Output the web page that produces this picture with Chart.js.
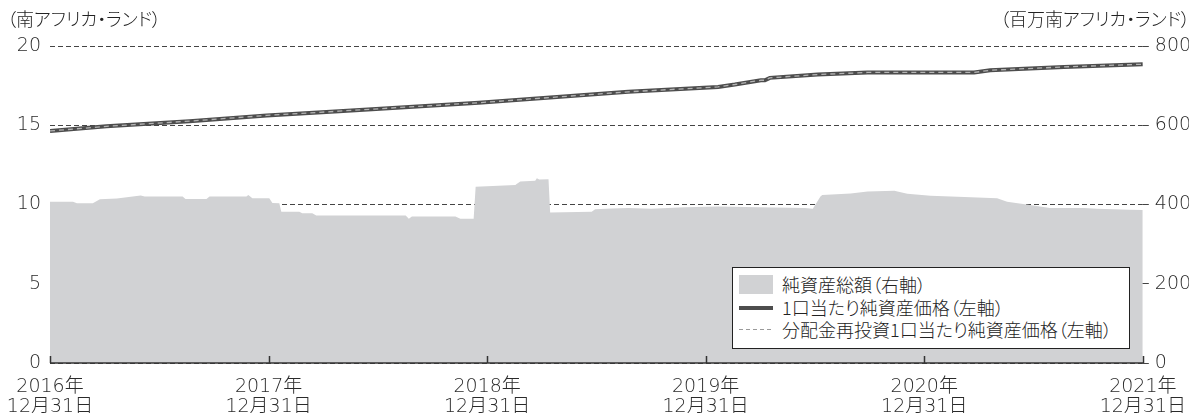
<!DOCTYPE html>
<html><head><meta charset="utf-8">
<script src="https://cdn.jsdelivr.net/npm/chart.js@4.4.1/dist/chart.umd.min.js"></script>
<style>
html,body{margin:0;padding:0;background:#fff;}
#wrap{position:relative;width:1192px;height:413px;overflow:hidden;}
#c{position:absolute;left:0;top:0;}
.t{position:absolute;font-family:"Noto Sans CJK JP",sans-serif;font-weight:300;font-size:18px;line-height:20px;color:#222;font-feature-settings:"palt";white-space:nowrap;}
#legend{position:absolute;left:732px;top:267px;width:396px;height:80px;border:1px solid #222;background:#fff;}
.row{position:absolute;left:0;height:22px;width:100%;}
.sw{position:absolute;left:6px;width:34px;}
.lt{position:absolute;left:49px;top:0;font-family:"Noto Sans CJK JP",sans-serif;font-weight:300;font-size:18px;line-height:22px;color:#222;font-feature-settings:"palt";white-space:nowrap;}
</style></head>
<body>
<div id="wrap">
<canvas id="c" width="1192" height="413"></canvas>
<div class="t" style="left:7px;top:8px;">（南アフリカ・ランド）</div>
<div class="t" style="right:2px;top:8px;">（百万南アフリカ・ランド）</div>
<div id="legend">
  <div class="row" style="top:5px;"><div class="sw" style="top:1.5px;height:19px;background:#d1d2d4;"></div><div class="lt">純資産総額（右軸）</div></div>
  <div class="row" style="top:28px;"><div class="sw" style="top:10px;height:3.5px;background:#4d4d4d;"></div><div class="lt">1口当たり純資産価格（左軸）</div></div>
  <div class="row" style="top:50px;"><div class="sw" style="top:10.5px;height:1px;background:repeating-linear-gradient(to right,#9a9a9a 0 4px,transparent 4px 7px);"></div><div class="lt">分配金再投資1口当たり純資産価格（左軸）</div></div>
</div>
</div>
<script>
// months since 2016-12-31
const xTickLabels = [['2016年','12月31日'],['2017年','12月31日'],['2018年','12月31日'],['2019年','12月31日'],['2020年','12月31日'],['2021年','12月31日']];
const leftTicks = [0,5,10,15,20];
const rightTicks = [0,200,400,600,800];

const navMonths = [0, 3.1, 7.66, 11.9, 15.87, 23.54, 31.75, 36.68, 37.6, 38.7, 39.03, 39.25, 39.52, 42.15, 44.89, 50.74, 51.62, 55.67, 60];
const navValues = [14.64, 14.93, 15.26, 15.62, 15.89, 16.42, 17.11, 17.42, 17.57, 17.78, 17.84, 17.84, 17.99, 18.20, 18.33, 18.33, 18.47, 18.68, 18.85];
const reinvNavValues = [14.64, 14.93, 15.26, 15.62, 15.89, 16.42, 17.11, 17.42, 17.57, 17.78, 17.84, 17.84, 17.99, 18.20, 18.33, 18.33, 18.47, 18.68, 18.85];

const aumMonths = [0, 1.26, 1.48, 2.35, 2.74, 3.67, 4.98, 5.2, 7.28, 7.44, 8.59, 8.76, 10.78, 10.89, 11.11, 12.04, 12.21, 12.59, 12.70, 13.69, 13.85, 14.4, 14.62, 15.87, 19.53, 19.7, 19.87, 22.26, 22.53, 23.26, 23.37, 25.55, 25.62, 25.82, 26.64, 26.73, 26.86, 27.37, 27.46, 29.74, 29.93, 30.84, 31.75, 33.0, 34.87, 36.7, 38.87, 41.44, 41.88, 42.3, 42.4, 43.96, 44.89, 46.36, 46.53, 47.07, 48.34, 50.2, 52.0, 52.55, 53.81, 54.9, 56.77, 57.48, 59.28, 60];
const aumValues = [407, 407, 403, 403, 413, 415, 423, 420, 420, 414, 414, 420, 420, 424, 416, 416, 404, 403, 382, 382, 378, 378, 372, 372, 372, 364, 370, 370, 364, 364, 445, 449, 452, 458, 460, 466, 463, 464, 380, 382, 388, 390, 391, 389, 393, 395, 393, 391, 389, 420, 424, 428, 433, 435, 433, 427, 422, 419, 416, 407, 399, 391, 391, 389, 387, 386];

const pts = (xs, ys) => xs.map((x, i) => ({x: x, y: ys[i]}));

const axisPlugin = {
  id: 'axisPlugin',
  afterDatasetsDraw(chart) {
    const ctx = chart.ctx, xs = chart.scales.x, a = chart.chartArea;
    ctx.save();
    ctx.strokeStyle = '#333';
    ctx.lineWidth = 1.5;
    ctx.beginPath();
    ctx.moveTo(a.left, a.bottom);
    ctx.lineTo(a.right, a.bottom);
    xs.ticks.forEach(t => {
      const px = Math.round(xs.getPixelForValue(t.value)) + 0.5;
      ctx.moveTo(px, a.bottom);
      ctx.lineTo(px, a.bottom - 7);
    });
    ctx.stroke();
    ctx.restore();
  }
};

Chart.defaults.font.family = "'DejaVu Sans','Noto Sans CJK JP',sans-serif";
Chart.defaults.font.weight = 200;
Chart.defaults.color = '#2a2a2a';

new Chart(document.getElementById('c'), {
  type: 'line',
  data: {
    datasets: [
      {data: pts(navMonths, reinvNavValues), yAxisID: 'y', borderColor: '#b4b4b4', borderWidth: 1.3, borderDash: [5, 4], pointRadius: 0, order: 0, tension: 0},
      {data: pts(navMonths, navValues), yAxisID: 'y', borderColor: '#4d4d4d', borderWidth: 4, pointRadius: 0, order: 1, tension: 0},
      {data: pts(aumMonths, aumValues), yAxisID: 'y1', borderWidth: 0, borderColor: 'rgba(0,0,0,0)', backgroundColor: '#d1d2d4', fill: 'origin', pointRadius: 0, order: 2, tension: 0}
    ]
  },
  options: {
    responsive: false,
    animation: false,
    devicePixelRatio: 1,
    layout: {padding: {top: 46, left: 0, right: 0, bottom: 0}},
    plugins: {legend: {display: false}, tooltip: {enabled: false}},
    scales: {
      x: {
        type: 'linear', min: 0, max: 60,
        afterBuildTicks(s) { s.ticks = xTickLabels.map((l, i) => ({value: i * 12})); },
        afterFit(s) { s.height = 50; },
        grid: {display: false},
        border: {display: false},
        ticks: {maxRotation: 0, autoSkip: false, padding: 6, font: {size: 19, lineHeight: 1.07, weight: 200}, callback: (v) => xTickLabels[Math.round(v / 12)]}
      },
      y: {
        position: 'left', min: 0, max: 20,
        afterBuildTicks(s) { s.ticks = leftTicks.map(v => ({value: v})); },
        afterFit(s) { s.width = 50; },
        border: {display: false, dash: [5, 3]},
        grid: {color: '#444', lineWidth: 1, drawTicks: false},
        ticks: {padding: 9, font: {size: 19, weight: 200}}
      },
      y1: {
        position: 'right', min: 0, max: 800,
        afterBuildTicks(s) { s.ticks = rightTicks.map(v => ({value: v})); },
        afterFit(s) { s.width = 46; },
        border: {display: false},
        grid: {drawOnChartArea: false, drawTicks: true, tickLength: 6, color: '#444', lineWidth: 1},
        ticks: {padding: 6, font: {size: 19, weight: 200}}
      }
    }
  },
  plugins: [axisPlugin]
});
</script>
</body></html>
